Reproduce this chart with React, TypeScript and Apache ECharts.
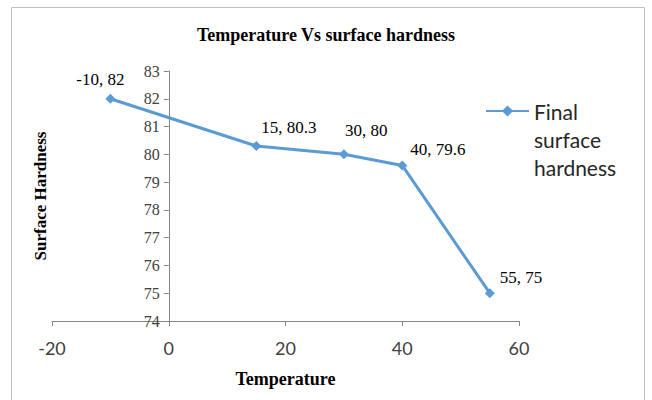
import React, { useEffect, useRef } from "react";
import * as echarts from "echarts";

const temperatures = [-10, 15, 30, 40, 55];
const hardness = [82, 80.3, 80, 79.6, 75];
const seriesName = "Final surface hardness";
const legendLines = ["Final", "surface", "hardness"];
const xTicks = { min: -20, max: 60, interval: 20 };
const yTicks = { min: 74, max: 83, interval: 1 };

// label placement styling per point: [position, offsetX, offsetY]
const labelPlacement: [string, number, number][] = [
  ["top", -10, -1],
  ["right", -5, -19],
  ["right", -9, -24],
  ["right", -2, -16],
  ["right", 0, -16],
];

const BLUE = "#5B9BD5";
const AXIS = "#868686";
const SERIF = "'Liberation Serif', 'Times New Roman', serif";
const SANS = "Lato, 'Noto Sans', sans-serif";

const GRID = { left: 52, right: 133, top: 71, bottom: 79 };
const WIDTH = 652;

export default function App() {
  const ref = useRef<HTMLDivElement>(null);
  useEffect(() => {
    if (!ref.current) return;
    const chart = echarts.init(ref.current, undefined, { renderer: "svg" });
    const data = temperatures.map((t, i) => ({
      value: [t, hardness[i]],
      label: {
        position: labelPlacement[i][0] as any,
        offset: [labelPlacement[i][1], labelPlacement[i][2]],
      },
    }));
    const gridWidth = WIDTH - GRID.left - GRID.right;
    // y axis crosses the x axis at x = 0
    const yAxisShift = ((0 - xTicks.min) / (xTicks.max - xTicks.min)) * gridWidth;
    chart.setOption({
      animation: false,
      backgroundColor: "#ffffff",
      title: {
        text: "Temperature Vs surface hardness",
        left: "center",
        top: 21,
        textStyle: { fontFamily: SERIF, fontWeight: "bold", fontSize: 18, color: "#000" },
      },
      graphic: [
        {
          type: "rect",
          shape: { x: 11.5, y: 7.5, width: 633, height: 400 },
          style: { fill: "none", stroke: "#bfbfbf", lineWidth: 1 },
          silent: true,
        },
      ],
      legend: {
        data: [seriesName],
        left: 485,
        top: 41,
        padding: 0,
        itemWidth: 43,
        itemHeight: 14,
        formatter: () => [" ", " ", ...legendLines].join("\n"),
        textStyle: {
          fontFamily: SANS,
          fontSize: 21,
          color: "#262626",
          lineHeight: 28,
        },
      },
      grid: { ...GRID, containLabel: false, outerBoundsMode: "none" },
      xAxis: {
        type: "value",
        min: xTicks.min,
        max: xTicks.max,
        interval: xTicks.interval,
        name: "Temperature",
        nameLocation: "middle",
        nameGap: 49,
        nameTextStyle: { fontFamily: SERIF, fontWeight: "bold", fontSize: 18, color: "#000" },
        axisLine: { lineStyle: { color: AXIS, width: 1 } },
        axisTick: { show: true, length: 5, lineStyle: { color: AXIS } },
        axisLabel: { fontFamily: SANS, fontSize: 18, color: "#404040", margin: 18 },
        splitLine: { show: false },
      },
      yAxis: {
        type: "value",
        min: yTicks.min,
        max: yTicks.max,
        interval: yTicks.interval,
        offset: -yAxisShift,
        name: "Surface Hardness",
        nameLocation: "middle",
        nameGap: 120,
        nameTextStyle: { fontFamily: SERIF, fontWeight: "bold", fontSize: 17, color: "#000" },
        axisLine: { show: true, onZero: false, lineStyle: { color: AXIS, width: 1 } },
        axisTick: { show: true, length: 5, lineStyle: { color: AXIS } },
        axisLabel: { fontFamily: SERIF, fontSize: 16, color: "#404040", margin: 9 },
        splitLine: { show: false },
      },
      series: [
        {
          name: seriesName,
          type: "line",
          data,
          symbol: "diamond",
          symbolSize: 10,
          lineStyle: { color: BLUE, width: 3 },
          itemStyle: { color: BLUE },
          label: {
            show: true,
            fontFamily: SERIF,
            fontSize: 17,
            color: "#000",
            formatter: (p: any) => `${p.value[0]}, ${p.value[1]}`,
          },
        },
      ],
    });
    return () => chart.dispose();
  }, []);
  return (
    <div
      ref={ref}
      style={{ position: "fixed", left: 0, top: 0, width: WIDTH, height: 400 }}
    />
  );
}
